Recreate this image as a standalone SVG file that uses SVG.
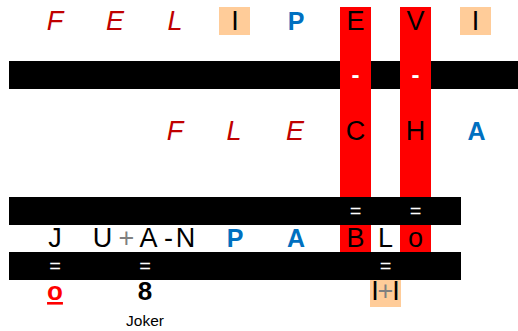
<svg xmlns="http://www.w3.org/2000/svg" width="518" height="331" viewBox="0 0 518 331">
<style>
text{font-family:"Liberation Sans",Arial,sans-serif;text-anchor:middle}
.big{font-size:27px;fill:#000}
.it{font-size:27px;fill:#C00000;font-style:italic}
.bl{font-size:25px;fill:#0070C0;font-weight:bold}
.w{font-size:20px;fill:#fff}
.g{fill:#808080}
.bar{fill:#000}
.red{fill:#FF0000}
.or{fill:#FFCC99}
</style>
<rect width="518" height="331" fill="#fff"/>
<g id="bar1"><rect class="bar" x="9" y="61" width="509" height="28"/></g>
<g id="columns">
<rect class="red" x="340" y="7" width="31" height="190"/>
<rect class="red" x="400" y="7" width="31" height="190"/>
<text class="w" x="355.5" y="83" style="font-size:24px;font-weight:bold">-</text>
<text class="w" x="415.5" y="83" style="font-size:24px;font-weight:bold">-</text>
</g>
<g id="row1">
<rect class="or" x="219" y="7" width="31" height="28"/>
<rect class="or" x="460" y="7" width="31" height="28"/>
<text class="it" x="55" y="30">F</text>
<text class="it" x="115" y="30">E</text>
<text class="it" x="175" y="30">L</text>
<text class="big" x="235" y="30">I</text>
<text class="bl" x="296" y="30">P</text>
<text class="big" x="355.5" y="30">E</text>
<text class="big" x="415.5" y="30">V</text>
<text class="big" x="475.5" y="30">I</text>
</g>
<g id="row2">
<text class="it" x="175" y="140">F</text>
<text class="it" x="234" y="140">L</text>
<text class="it" x="295" y="140">E</text>
<text class="big" x="355.5" y="140">C</text>
<text class="big" x="415.5" y="140">H</text>
<text class="bl" x="476.5" y="140">A</text>
</g>
<g id="bar2"><rect class="bar" x="9" y="197" width="452" height="28"/>
<text class="w" x="355.5" y="218">=</text>
<text class="w" x="415.5" y="218">=</text>
</g>
<g id="row3">
<rect class="red" x="340" y="225" width="31" height="27"/>
<rect class="red" x="400" y="225" width="31" height="27"/>
<text class="big" x="55" y="247">J</text>
<text class="big" x="102.5" y="247">U</text>
<text class="big g" x="126.5" y="247">+</text>
<text class="big" x="148.5" y="247">A</text>
<text class="big" x="168.5" y="247">-</text>
<text class="big" x="185.5" y="247">N</text>
<text class="bl" x="235" y="247">P</text>
<text class="bl" x="296" y="247">A</text>
<text class="big" x="355.5" y="247">B</text>
<text class="big" x="385.5" y="247">L</text>
<text class="big" x="415.5" y="247">o</text>
</g>
<g id="bar3"><rect class="bar" x="9" y="252" width="452" height="28"/>
<text class="w" x="55" y="273">=</text>
<text class="w" x="145" y="273">=</text>
<text class="w" x="385.5" y="273">=</text>
</g>
<g id="row4">
<text x="55" y="300" style="font-size:26px;font-weight:bold;fill:#FF0000;text-decoration:underline">o</text>
<text x="145" y="300" style="font-size:26px;font-weight:bold;fill:#000">8</text>
<text x="145" y="326" style="font-size:15.5px;fill:#000">Joker</text>
<rect class="or" x="370" y="280" width="31" height="27"/>
<text class="big" x="375" y="300">I</text>
<text class="big g" x="385.5" y="300">+</text>
<text class="big" x="396" y="300">I</text>
</g>
</svg>
